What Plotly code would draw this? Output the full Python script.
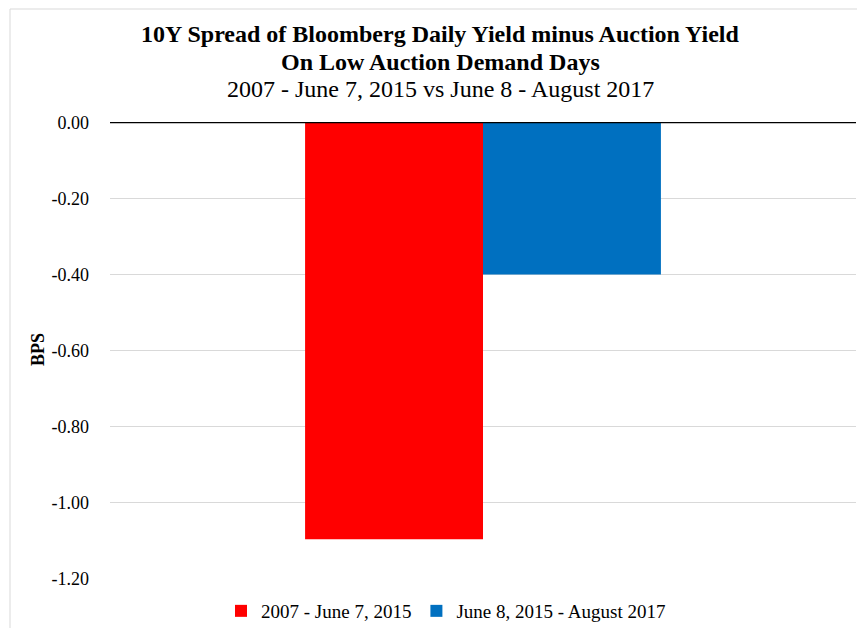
import plotly.graph_objects as go

# Data
categories = ["10Y Spread"]
series_names = ["2007 - June 7, 2015", "June 8, 2015 - August 2017"]
series_values = [[-1.097], [-0.40]]
series_colors = ["#FF0000", "#0070C0"]
tick_vals = [0.0, -0.2, -0.4, -0.6, -0.8, -1.0, -1.2]
tick_text = ["0.00", "-0.20", "-0.40", "-0.60", "-0.80", "-1.00", "-1.20"]

FONT = "Liberation Serif"
W, H = 857, 628
L, R, T, B = 110, 1, 122, 49
PW, PH = W - L - R, H - T - B

def px_x(x):
    return (x - L) / PW

def px_y(y):
    return 1 + (T - y) / PH

fig = go.Figure()
for name, vals, col in zip(series_names, series_values, series_colors):
    fig.add_trace(go.Bar(x=categories, y=vals, name=name, marker=dict(color=col, line=dict(width=0))))

fig.update_layout(
    width=W, height=H,
    margin=dict(l=L, r=R, t=T, b=B, autoexpand=False),
    paper_bgcolor="white", plot_bgcolor="white",
    barmode="group", bargap=0.523, bargroupgap=0,
    font=dict(family=FONT, size=18, color="#000"),
    showlegend=True,
    legend=dict(orientation="h", x=px_x(446), xanchor="center", y=px_y(611), yanchor="middle",
                font=dict(size=19, family=FONT), itemwidth=30, tracegroupgap=0,
                bgcolor="rgba(0,0,0,0)"),
    xaxis=dict(range=[-0.5, 0.5], showticklabels=False, showgrid=False, zeroline=False, showline=False, ticks=""),
    yaxis=dict(range=[-1.2015, 0.0015], tickvals=tick_vals, ticktext=tick_text, showgrid=True,
               gridcolor="#D9D9D9", gridwidth=1, zeroline=False, showline=False, ticks="",
               ticklabelstandoff=20, tickfont=dict(size=18, family=FONT)),
)

# zero axis line
fig.add_shape(type="line", xref="paper", yref="y", x0=0, x1=1, y0=0, y1=0, line=dict(color="#000", width=1.3))
# chart area border
fig.add_shape(type="rect", xref="paper", yref="paper", x0=px_x(10), x1=px_x(860), y0=px_y(640), y1=px_y(9),
              line=dict(color="#D9D9D9", width=1), layer="below")

titles = [
    ("<b>10Y Spread of Bloomberg Daily Yield minus Auction Yield</b>", 34),
    ("<b>On Low Auction Demand Days</b>", 62),
    ("2007 - June 7, 2015 vs June 8 - August 2017", 89),
]
for txt, yp in titles:
    fig.add_annotation(text=txt, xref="paper", yref="paper", x=px_x(440), y=px_y(yp),
                       xanchor="center", yanchor="middle", showarrow=False,
                       font=dict(size=24, family=FONT, color="#000"))

fig.add_annotation(text="<b>BPS</b>", xref="paper", yref="paper", x=px_x(38), y=px_y(350),
                   xanchor="center", yanchor="middle", showarrow=False, textangle=-90,
                   font=dict(size=18, family=FONT, color="#000"))

fig.write_html("out.html", config={"displayModeBar": False},
               post_script="document.body.style.margin='0';document.body.style.padding='0';")
